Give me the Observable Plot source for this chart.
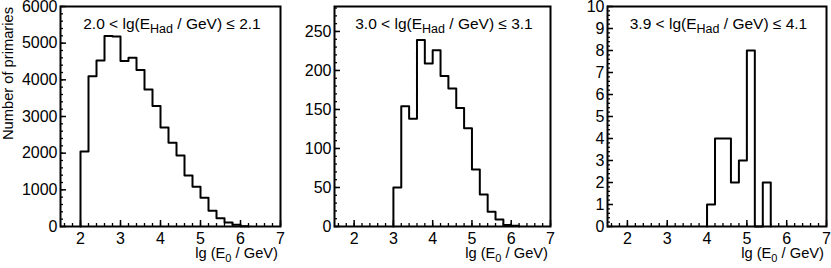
<!DOCTYPE html>
<html><head><meta charset="utf-8">
<script src="https://cdn.jsdelivr.net/npm/d3@7"></script>
<script src="https://cdn.jsdelivr.net/npm/@observablehq/plot@0.6"></script>
<style>
body{margin:0;background:#fff;}
#wrap{position:relative;width:831px;height:268px;background:#fff;}
#wrap svg{position:absolute;top:0;overflow:visible;background:transparent !important;max-width:none !important;}
</style></head><body><div id="wrap"></div>
<script>
// ---- data ----
const binWidth = 0.2;
const p1Start = 2.0;
const p1Counts = [2046, 4100, 4530, 5196, 5180, 4511, 4603, 4265, 3735, 3288, 2703, 2283, 1936, 1388, 1087, 785, 429, 228, 110, 46, 10];
const p2Start = 3.0;
const p2Counts = [50, 154, 138, 239, 209, 226, 193, 177, 152, 126, 73, 41, 19, 9, 2, 1];
const p3Start = 4.0;
const p3Counts = [1, 4, 4, 2, 3, 8, 0, 2];

const titleMain = ["2.0 < lg(E", "3.0 < lg(E", "3.9 < lg(E"];
const titleSub = "Had";
const titleEnd = [" / GeV) ≤ 2.1", " / GeV) ≤ 3.1", " / GeV) ≤ 4.1"];
const yLabel = "Number of primaries";
const xLabelMain = "lg (E", xLabelSub = "0", xLabelEnd = " / GeV)";

const xDomain = [1.5, 7];
const xTicks = [2, 3, 4, 5, 6, 7];
const yTicks1 = [0, 1000, 2000, 3000, 4000, 5000, 6000];
const yTicks2 = [0, 50, 100, 150, 200, 250];
const yTicks3 = [0, 1, 2, 3, 4, 5, 6, 7, 8, 9, 10];
const yMax = [6000, 282, 10];
const yMinorStep = [200, 10, 0.2];

// ---- layout ----
const H = 268, MT = 6, MB = 42, ML = 60, MR = 3;
const panels = [
  {left: 0,   width: 283, start: p1Start, counts: p1Counts, yTicks: yTicks1},
  {left: 274, width: 279, start: p2Start, counts: p2Counts, yTicks: yTicks2},
  {left: 547, width: 282, start: p3Start, counts: p3Counts, yTicks: yTicks3}
];
const FONT = '"Liberation Sans", Arial, Helvetica, sans-serif';
const wrap = document.getElementById("wrap");

panels.forEach((p, i) => {
  const innerW = p.width - ML - MR, innerH = H - MT - MB;
  // step outline points
  const pts = [{x: p.start, y: 0}];
  p.counts.forEach((c, k) => pts.push({x: p.start + k * binWidth, y: c}));
  pts.push({x: p.start + p.counts.length * binWidth, y: 0});
  const xMinor = d3.range(1.6, 7.0001, 0.2).map(v => +v.toFixed(2));
  const yMinor = d3.range(0, yMax[i] + 1e-9, yMinorStep[i]).map(v => +v.toFixed(3));
  const fmt = d => String(d);
  const svg = Plot.plot({
    width: p.width, height: H,
    marginTop: MT, marginBottom: MB, marginLeft: ML, marginRight: MR,
    style: {fontFamily: FONT, background: "transparent", color: "black", overflow: "visible"},
    x: {domain: xDomain},
    y: {domain: [0, yMax[i]]},
    marks: [
      Plot.line(pts, {x: "x", y: "y", curve: "step-after", stroke: "black", strokeWidth: 2}),
      Plot.tickX(xMinor, {x: d => d, insetTop: innerH - 3, stroke: "black", strokeWidth: 1.3}),
      Plot.tickX(xTicks, {x: d => d, insetTop: innerH - 6, stroke: "black", strokeWidth: 1.5}),
      Plot.tickY(yMinor, {y: d => d, insetRight: innerW - 3, stroke: "black", strokeWidth: 1.3}),
      Plot.tickY(p.yTicks, {y: d => d, insetRight: innerW - 6, stroke: "black", strokeWidth: 1.5}),
      Plot.axisX(xTicks, {tickSize: 0, tickPadding: 6, fontSize: 16, tickFormat: fmt, label: null, fill: "black"}),
      Plot.axisY(p.yTicks, {tickSize: 0, tickPadding: 3, fontSize: 16, tickFormat: fmt, label: null, fill: "black"}),
      Plot.frame({stroke: "black", strokeWidth: 2})
    ]
  });
  svg.style.left = p.left + "px";
  wrap.appendChild(svg);
  const s = d3.select(svg);
  // panel title
  const t = s.append("text")
    .attr("x", ML + innerW / 2 + 2).attr("y", 28.5)
    .attr("text-anchor", "middle")
    .style("font-family", FONT).style("font-size", "15.5px").attr("fill", "black");
  t.append("tspan").text(titleMain[i]);
  t.append("tspan").attr("dy", 4).style("font-size", "12.5px").text(titleSub);
  t.append("tspan").attr("dy", -4).text(titleEnd[i]);
  // x axis title
  const xt = s.append("text")
    .attr("x", ML + innerW - 2).attr("y", 258)
    .attr("text-anchor", "end")
    .style("font-family", FONT).style("font-size", "14.7px").attr("fill", "black");
  xt.append("tspan").text(xLabelMain);
  xt.append("tspan").attr("dy", 4).style("font-size", "11px").text(xLabelSub);
  xt.append("tspan").attr("dy", -4).text(xLabelEnd);
  if (i === 0) {
    s.append("text")
      .attr("transform", "translate(12.5,7) rotate(-90)")
      .attr("text-anchor", "end")
      .style("font-family", FONT).style("font-size", "14.7px").attr("fill", "black")
      .text(yLabel);
  }
});
</script></body></html>
